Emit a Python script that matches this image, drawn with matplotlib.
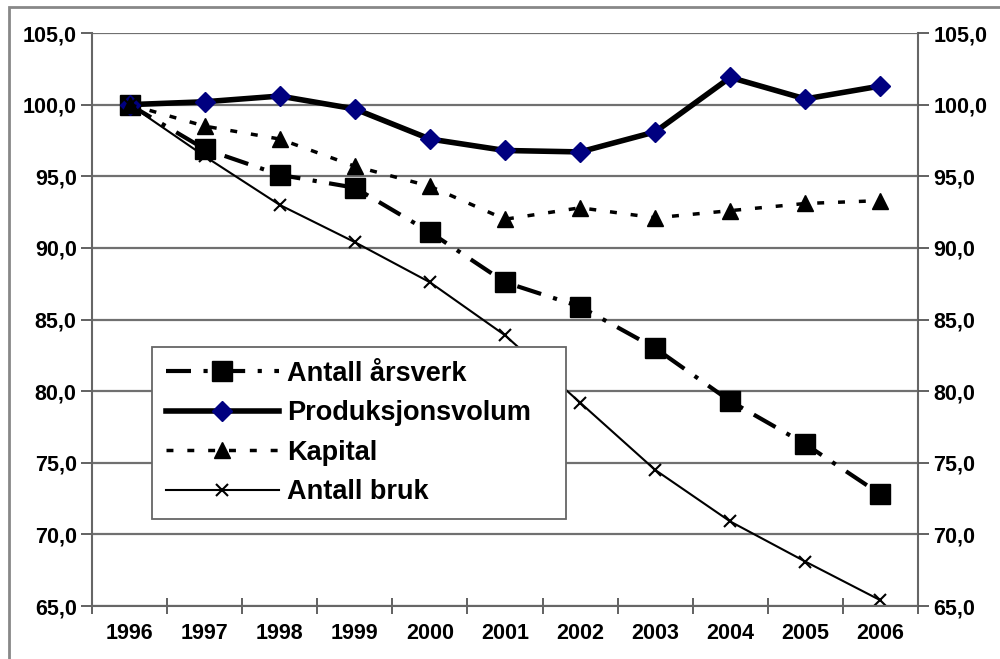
import matplotlib
matplotlib.use("Agg")
import matplotlib.pyplot as plt
from matplotlib.patches import Rectangle

plt.rcParams["font.family"] = ["Liberation Sans", "DejaVu Sans"]
plt.rcParams["font.weight"] = "bold"

years = ["1996", "1997", "1998", "1999", "2000", "2001", "2002", "2003", "2004", "2005", "2006"]
arsverk = [100.0, 96.9, 95.1, 94.2, 91.1, 87.6, 85.9, 83.0, 79.3, 76.3, 72.8]
produksjon = [100.0, 100.2, 100.6, 99.7, 97.6, 96.8, 96.7, 98.1, 101.9, 100.4, 101.3]
kapital = [100.0, 98.5, 97.6, 95.7, 94.3, 92.0, 92.8, 92.1, 92.6, 93.1, 93.3]
bruk = [100.0, 96.4, 93.0, 90.4, 87.6, 83.9, 79.2, 74.5, 70.9, 68.1, 65.4]
yticks = [65, 70, 75, 80, 85, 90, 95, 100, 105]

fig = plt.figure(figsize=(10, 6.59), dpi=100)
ax = fig.add_axes([0.092, 0.0804, 0.826, 0.8695])

x = list(range(len(years)))

ax.plot(x, arsverk, color="black", lw=3, linestyle=(0, (6, 3, 1, 3)),
        marker="s", markersize=15, label="Antall årsverk")
ax.plot(x, produksjon, color="black", lw=4, marker="D", markersize=10,
        markerfacecolor="#000080", markeredgecolor="#000080", label="Produksjonsvolum")
ax.plot(x, kapital, color="black", lw=2.5, linestyle=(0, (2, 4)),
        marker="^", markersize=12, label="Kapital")
ax.plot(x, bruk, color="black", lw=1.5, marker="x", markersize=9,
        markeredgewidth=1.5, label="Antall bruk")

ax.set_xlim(-0.5, len(years) - 0.5)
ax.set_ylim(65, 105)
ax.set_yticks(yticks)
ax.set_yticklabels([f"{v},0" for v in yticks])
ax.yaxis.grid(True, color="#707070", lw=1.6)
ax.set_axisbelow(True)

ax.set_xticks([i + 0.5 for i in range(-1, len(years))], minor=False)
ax.set_xticklabels([])
ax.set_xticks(x, minor=True)
ax.set_xticklabels(years, minor=True, fontsize=15.5, fontweight="bold")
ax.tick_params(axis="x", which="major", direction="inout", length=12, width=1.3, color="#555555")
ax.tick_params(axis="x", which="minor", length=0, pad=12)
ax.tick_params(axis="y", direction="out", length=8, width=1.3, color="#555555",
               labelsize=15.5, pad=3)

for side in ["left", "right", "bottom"]:
    ax.spines[side].set_color("#666666")
    ax.spines[side].set_linewidth(1.5)
ax.spines["top"].set_visible(False)

ax2 = ax.twinx()
ax2.set_ylim(65, 105)
ax2.set_yticks(yticks)
ax2.set_yticklabels([f"{v},0" for v in yticks])
ax2.tick_params(axis="y", direction="out", length=8, width=1.3, color="#555555",
                labelsize=15.5, pad=3)
for side in ["left", "right", "bottom", "top"]:
    ax2.spines[side].set_visible(False)

leg = ax.legend(loc="upper left", bbox_to_anchor=(0.0726, 0.0, 0.501, 0.452),
                mode="expand", frameon=True,
                fancybox=False, edgecolor="#666666", handlelength=4.2,
                handletextpad=0.3, labelspacing=0.5, borderpad=0.5,
                borderaxespad=0, prop={"weight": "bold", "size": 19.5})
leg.get_frame().set_linewidth(1.3)
leg.get_frame().set_facecolor("white")
leg.get_frame().set_alpha(1)

fig.patches.append(Rectangle((0.009, -0.1), 1.2, 1.089, transform=fig.transFigure,
                             fill=False, edgecolor="#888888", lw=2))

fig.savefig("out.png", dpi=100)
